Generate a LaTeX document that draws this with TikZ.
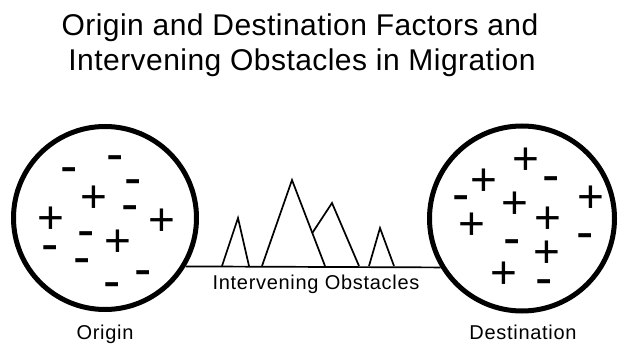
\documentclass[tikz,border=0pt]{standalone}
\usepackage{fontspec}
\setmainfont{Liberation Sans}
\begin{document}
\begin{tikzpicture}[x=1pt,y=-1pt,
  circ/.style={circle,draw,line width=5pt,inner sep=0pt},
  plus/.style={anchor=base,inner sep=0pt,yshift=-16.1pt,font=\fontsize{46}{46}\selectfont},
  minus/.style={anchor=base,inner sep=0pt,yshift=-14pt,font=\fontsize{52}{52}\selectfont},
  lbl/.style={anchor=base,inner sep=0pt,font=\addfontfeatures{LetterSpace=3.5}\fontsize{20}{24}\selectfont},
  ttl/.style={anchor=base,inner sep=0pt,font=\addfontfeatures{LetterSpace=1.5}\fontsize{30}{35}\selectfont},
  mount/.style={line width=1.7pt,line join=miter}]
\useasboundingbox (0,0) rectangle (618,344);
% title
\node[ttl] (t1) at (300,36) {Origin and Destination Factors and};
\node[ttl] (t2) at (302,71) {Intervening Obstacles in Migration};
% circles
\node[circ,minimum size=183pt] (L) at (105,218) {};
\node[circ,minimum size=185pt] (R) at (522,218.5) {};
% baseline
\coordinate (bl) at (L.-31.6);
\coordinate (br) at (R.211.1);
\draw[line width=1.7pt] (bl) -- (br);
% mountains
\draw[mount] (222,266) -- (238,218) -- (249,266);
\draw[mount] (262,266) -- (292,180) -- (325,266);
\draw[mount] (312.3,233) -- (332,203) -- (359,266);
\draw[mount] (369,266) -- (380,228) -- (394,266);
% labels
\node[lbl] (io) at (316,290) {Intervening Obstacles};
\node[lbl] (orig) at (105,340) {Origin};
\node[lbl] (dest) at (523,340) {Destination};
% signs origin
\foreach \x/\y [count=\i] in {115/158,69/170,133/182,130/208,86/234,50/248,82/261,143/273,112/285}
  \node[minus] (om\i) at (\x,\y) {-};
\foreach \x/\y [count=\i] in {94/196,51/217,162/219,118/240}
  \node[plus] (op\i) at (\x,\y) {+};
% signs destination
\foreach \x/\y [count=\i] in {551/179,461/198,585/236,512/242,544/282}
  \node[minus] (dm\i) at (\x,\y) {-};
\foreach \x/\y [count=\i] in {526/158,484/179,591/196,515/202,548/217,472/223,547/251,504/272}
  \node[plus] (dp\i) at (\x,\y) {+};
\end{tikzpicture}
\end{document}
